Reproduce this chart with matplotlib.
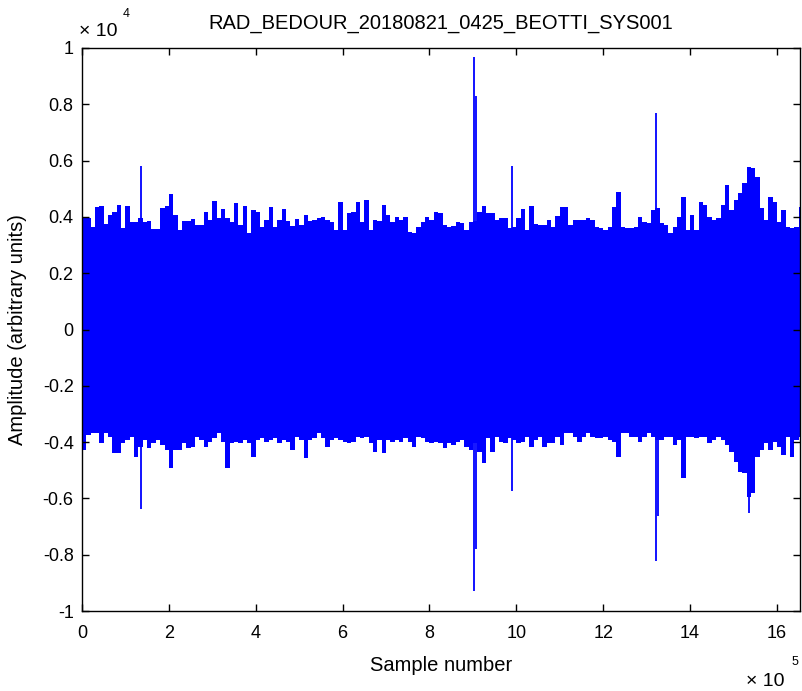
import numpy as np
import matplotlib
matplotlib.use("Agg")
import matplotlib.pyplot as plt

plt.rcParams['font.family'] = ['Liberation Sans', 'DejaVu Sans']
plt.rcParams['axes.unicode_minus'] = False

title = "RAD_BEDOUR_20180821_0425_BEOTTI_SYS001"
bin_width = 10000          # samples per envelope bin
n_samples = 1653000

# Upper envelope of the recorded amplitude, one value per 10 000-sample bin
upper = [
    4010, 3950, 3650, 4360, 4390, 3750, 4070, 4190, 4420, 3590,
    4390, 3830, 3830, 3950, 3830, 3870, 3560, 3560, 4300, 4390,
    4810, 4070, 3540, 3870, 3870, 3910, 3710, 3710, 4190, 3890,
    4580, 3950, 4270, 3950, 3830, 4480, 3710, 4390, 3420, 4250,
    4190, 3630, 3890, 4340, 3630, 3890, 4270, 3870, 3680, 3910,
    3710, 4070, 3870, 3890, 3950, 4010, 3890, 3830, 3540, 4540,
    3540, 4130, 4190, 4540, 3830, 4600, 3540, 3890, 3870, 4420,
    4070, 3830, 4010, 3890, 4010, 3480, 3440, 3650, 3830, 4010,
    3890, 4190, 4130, 3710, 3650, 3680, 3830, 3800, 3540, 3830,
    3870, 4190, 4390, 4130, 4150, 3890, 3950, 3950, 3590, 3650,
    3950, 4270, 3540, 4390, 3750, 3710, 3710, 3890, 3650, 4040,
    4340, 4340, 3710, 3890, 3890, 3890, 3950, 3890, 3650, 3590,
    3540, 3650, 4360, 4900, 3630, 3590, 3590, 3650, 4010, 3830,
    3770, 4250, 4300, 3770, 3710, 3440, 3650, 4010, 4720, 3540,
    4070, 3540, 4540, 4420, 4010, 3890, 3950, 4420, 5130, 4250,
    4600, 4840, 5190, 5790, 5730, 5430, 4300, 3890, 4720, 4540,
    3830, 4250, 3650, 3590, 3650, 4360,
]

# Lower envelope, same bins
lower = [
    -4280, -3750, -3690, -3690, -4040, -3690, -3810, -4400, -4400, -4040,
    -3930, -3810, -4520, -4160, -3930, -4220, -4040, -3930, -4100, -4280,
    -4930, -4280, -4280, -4040, -4220, -4160, -3810, -3930, -4160, -3980,
    -3870, -3690, -3980, -4930, -4040, -3980, -4040, -3930, -4040, -4520,
    -3930, -3870, -3980, -3930, -3870, -4040, -3930, -3980, -4280, -3810,
    -3930, -4580, -3930, -3870, -3690, -3870, -4160, -3930, -3870, -3930,
    -3980, -4040, -3980, -3810, -3870, -3810, -4040, -4340, -3930, -4400,
    -3930, -3980, -3930, -3980, -3870, -3980, -4160, -3810, -3870, -3980,
    -4040, -3980, -4040, -4220, -4040, -4100, -3980, -3930, -4160, -4280,
    -4040, -4340, -4750, -3870, -4340, -3810, -3980, -4040, -3870, -3930,
    -4040, -3980, -3810, -4160, -3930, -3810, -4160, -4040, -4040, -3810,
    -4100, -3690, -3690, -3810, -3980, -3810, -3690, -3810, -3870, -3870,
    -3810, -3930, -3980, -4520, -3690, -3690, -3810, -3810, -3980, -3810,
    -3690, -3810, -3930, -3930, -3810, -3810, -4100, -3930, -5290, -3810,
    -3810, -3870, -3810, -3810, -4040, -3930, -3810, -3930, -4100, -4340,
    -4700, -5050, -5110, -5940, -5820, -4520, -4280, -4040, -4280, -3980,
    -4160, -4460, -3810, -4520, -3930, -3810,
]

# Isolated impulsive spikes (sample index, positive peak, negative peak)
spike_pos = [135000, 902000, 906000, 989000, 1321000, 1325000, 1536000]
spike_top = [5800, 9680, 8290, 5800, 7690, 3800, 4000]
spike_bot = [-6380, -9290, -7800, -5740, -8220, -6630, -6520]

scale = 1e4
xscale = 1e5

fig = plt.figure(figsize=(8.02, 6.91), dpi=100)
ax = fig.add_axes([82 / 802, (691 - 611) / 691, 718 / 802, 563 / 691])

edges = np.arange(len(upper) + 1) * bin_width / xscale
ax.stairs(np.array(upper) / scale, edges, baseline=np.array(lower) / scale,
          fill=True, color='#0000ff', lw=0)
ax.vlines(np.array(spike_pos) / xscale, np.array(spike_bot) / scale,
          np.array(spike_top) / scale, color='#0000ff', lw=1.3)

ax.set_xlim(0, n_samples / xscale)
ax.set_ylim(-1, 1)
ax.set_xticks(np.arange(0, 17, 2))
ax.set_xticklabels([str(v) for v in range(0, 17, 2)])
yt = np.round(np.arange(-1, 1.01, 0.2), 1)
ax.set_yticks(yt)
ax.set_yticklabels(['-1', '-0.8', '-0.6', '-0.4', '-0.2', '0', '0.2', '0.4', '0.6', '0.8', '1'])
ax.tick_params(direction='in', length=5, width=1, top=True, right=True,
               labelsize=13, colors='black')
ax.tick_params(axis='x', pad=10)
ax.tick_params(axis='y', pad=6)
for s in ax.spines.values():
    s.set_linewidth(1.0)
    s.set_color('black')

ax.set_title(title, fontsize=14.5, pad=14)
ax.set_xlabel("Sample number", fontsize=14.5, labelpad=10)
ax.set_ylabel("Amplitude (arbitrary units)", fontsize=14.5, labelpad=11)

# exponent labels
fig.text(79 / 802, 1 - 32 / 691, "\u00d7 10", fontsize=14, va='center', ha='left')
fig.text(123 / 802, 1 - 14 / 691, "4", fontsize=9, va='center', ha='left')
fig.text(746 / 802, 1 - 681 / 691, "\u00d7 10", fontsize=14, va='center', ha='left')
fig.text(792 / 802, 1 - 662 / 691, "5", fontsize=9, va='center', ha='left')

fig.savefig("out.png", dpi=100)
